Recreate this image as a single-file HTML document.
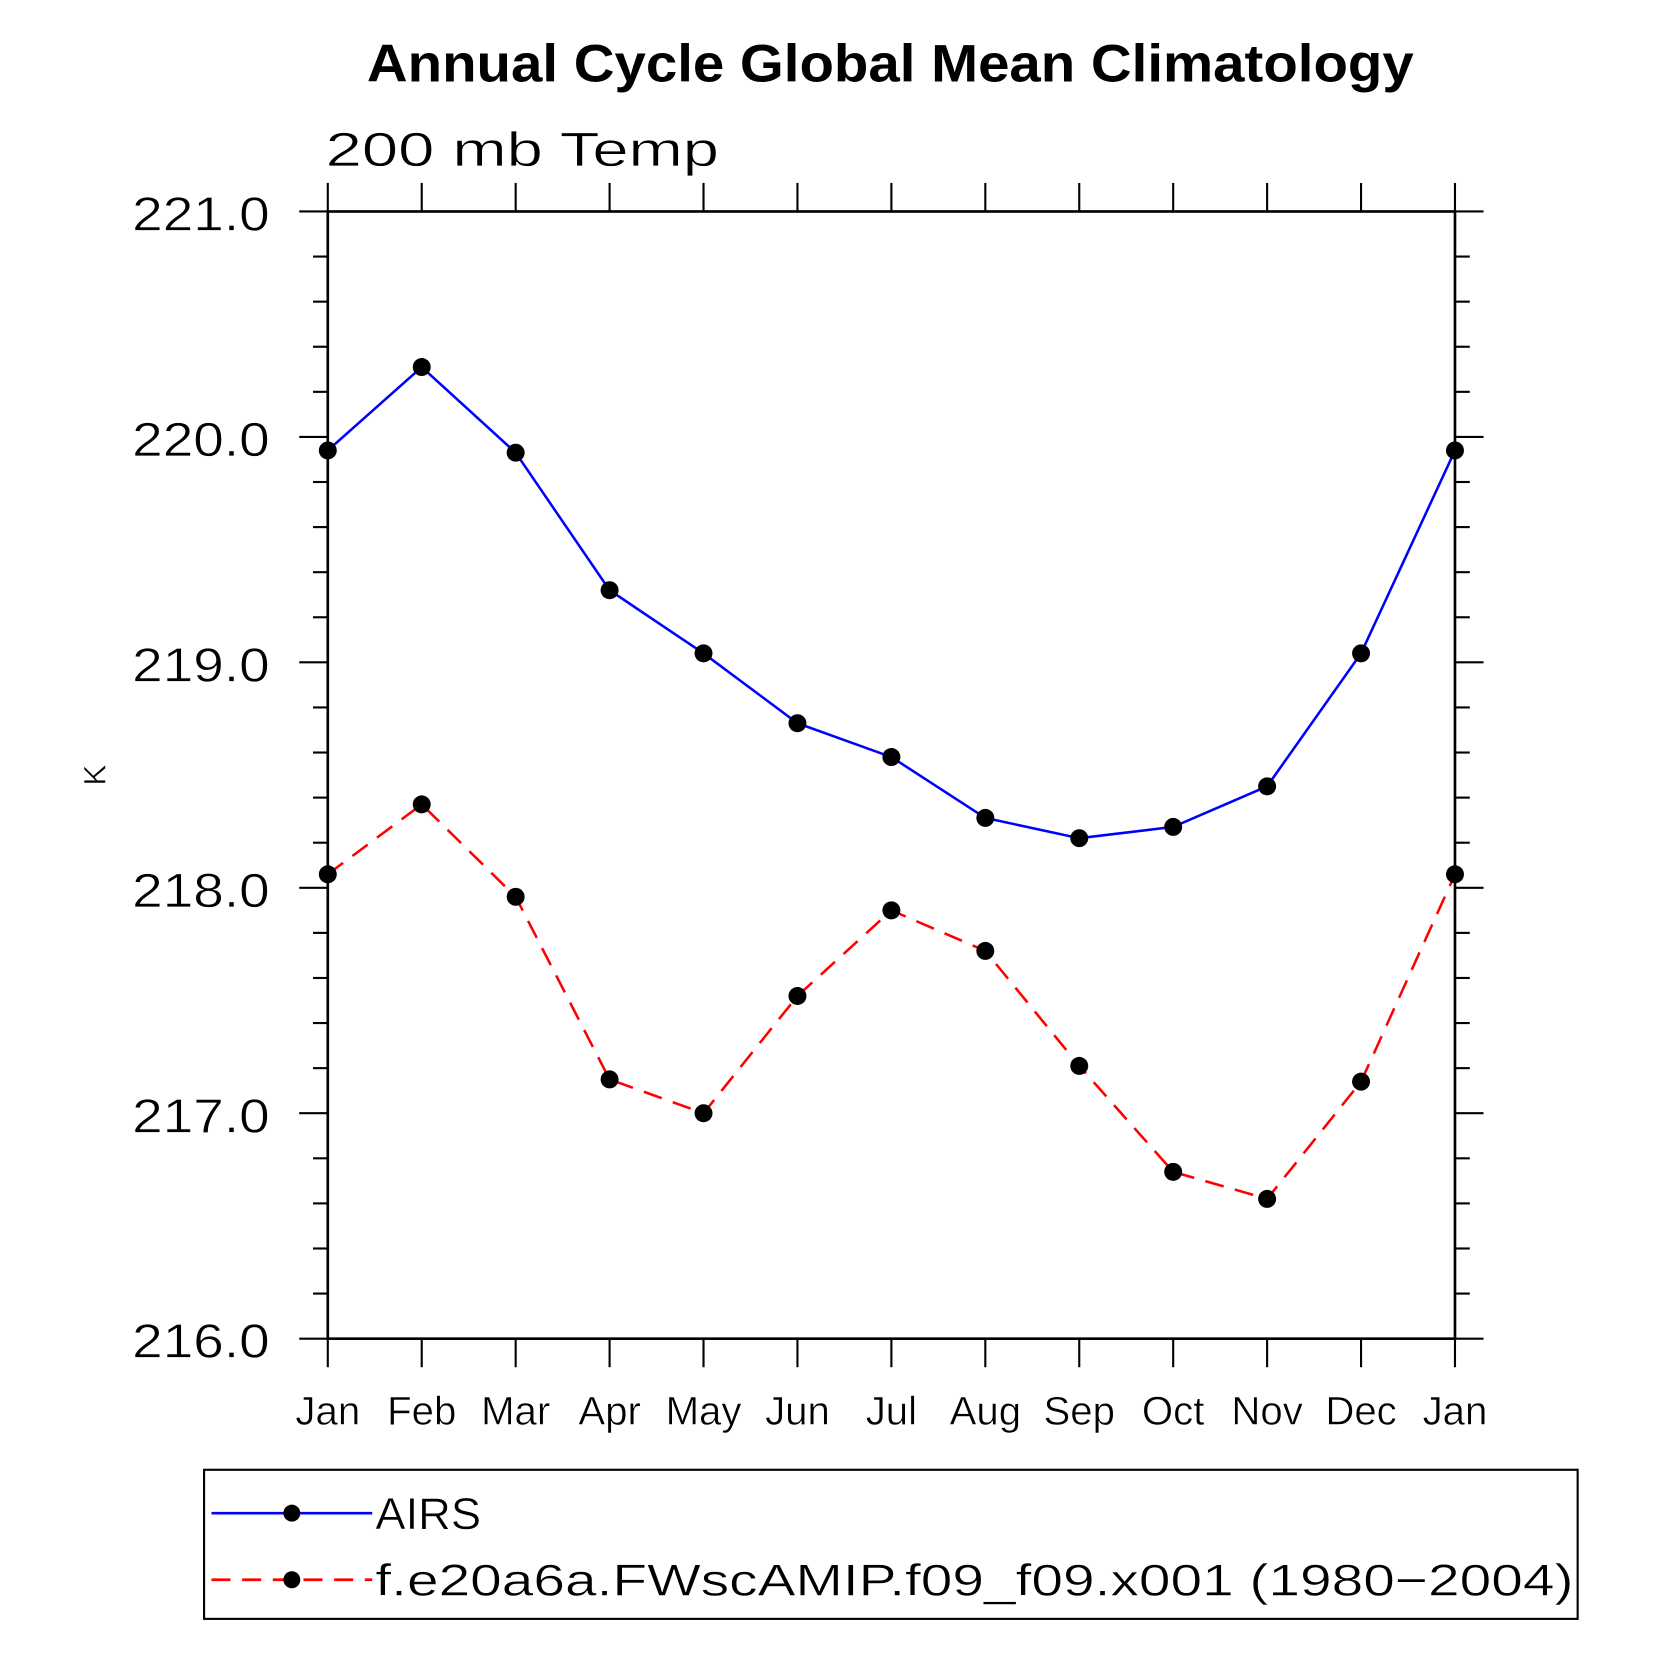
<!DOCTYPE html>
<html><head><meta charset="utf-8"><style>html,body{margin:0;padding:0;background:#fff}svg{display:block}</style></head>
<body>
<svg id="chart" width="1658" height="1658" viewBox="0 0 1568 1568" xmlns="http://www.w3.org/2000/svg" font-family="'Liberation Sans', sans-serif">
<text x="842" y="77" text-anchor="middle" font-size="50" font-weight="bold" textLength="990" lengthAdjust="spacingAndGlyphs">Annual Cycle Global Mean Climatology</text>
<text x="308" y="157" font-size="46" textLength="372" lengthAdjust="spacingAndGlyphs" stroke="#fff" stroke-width="0.6">200 mb Temp</text>
<text transform="translate(100,733) rotate(-90)" text-anchor="middle" font-size="30" stroke="#fff" stroke-width="0.5">K</text>
<g id="axes"></g>
<g id="series"></g>
<g>
<rect x="193" y="1390" width="1299" height="141" fill="none" stroke="#000" stroke-width="2"/>
<line x1="200" y1="1431" x2="352" y2="1431" stroke="#00f" stroke-width="2.5"/>
<circle cx="276" cy="1431" r="8"/>
<text x="355" y="1446" font-size="42" textLength="100" lengthAdjust="spacingAndGlyphs" stroke="#fff" stroke-width="0.5">AIRS</text>
<line x1="200" y1="1494" x2="352" y2="1494" stroke="#f00" stroke-width="2.5" stroke-dasharray="18,11"/>
<circle cx="276" cy="1494" r="8"/>
<text x="355" y="1509" font-size="42" textLength="1133" lengthAdjust="spacingAndGlyphs" stroke="#fff" stroke-width="0.5">f.e20a6a.FWscAMIP.f09_f09.x001 (1980−2004)</text>
</g>
</svg>
<script>
const months = ["Jan","Feb","Mar","Apr","May","Jun","Jul","Aug","Sep","Oct","Nov","Dec","Jan"];
const airsValues = [219.94,220.31,219.93,219.32,219.04,218.73,218.58,218.31,218.22,218.27,218.45,219.04,219.94];
const modelValues = [218.06,218.37,217.96,217.15,217.00,217.52,217.90,217.72,217.21,216.74,216.62,217.14,218.06];
const yTickValues = [216,217,218,219,220,221];
const yTickLabels = ["216.0","217.0","218.0","219.0","220.0","221.0"];

const NS = "http://www.w3.org/2000/svg";
const L=310,R=1376,T=200,B=1266,yMin=216,yMax=221;
const xs = i => L + (R-L)*i/(months.length-1);
const ys = v => B - (v-yMin)/(yMax-yMin)*(B-T);
function mk(tag, attrs, parent){const e=document.createElementNS(NS,tag);for(const k in attrs)e.setAttribute(k,attrs[k]);parent.appendChild(e);return e;}
const axes=document.getElementById('axes');
const frame=mk('rect',{x:L,y:T,width:R-L,height:B-T,fill:'none',stroke:'#000','stroke-width':2.5},axes);


months.forEach((m,i)=>{
  const x=xs(i);
  mk('line',{x1:x,y1:T-27,x2:x,y2:T,stroke:'#000','stroke-width':2},axes);
  mk('line',{x1:x,y1:B,x2:x,y2:B+27,stroke:'#000','stroke-width':2},axes);
  const t=mk('text',{x:x,y:1347,'text-anchor':'middle','font-size':38,stroke:'#fff','stroke-width':0.5},axes);
  t.textContent=m;
  
  
});
for(let v=yMin; v<=yMax+1e-9; v+=0.2){
  const y=ys(v);
  const major=Math.abs(v-Math.round(v))<1e-6;
  const len=major?27:14;
  mk('line',{x1:L-len,y1:y,x2:L,y2:y,stroke:'#000','stroke-width':2},axes);
  mk('line',{x1:R,y1:y,x2:R+len,y2:y,stroke:'#000','stroke-width':2},axes);
}
yTickValues.forEach((v,i)=>{
  const t=mk('text',{x:255,y:ys(v)+18,'text-anchor':'end','font-size':46,textLength:130,lengthAdjust:'spacingAndGlyphs',stroke:'#fff','stroke-width':0.6},axes);
  t.textContent=yTickLabels[i];
  
  
});
const series=document.getElementById('series');
function drawSeries(vals,color,dash,name){
  const pts=vals.map((v,i)=>xs(i)+','+ys(v)).join(' ');
  const pl=mk('polyline',{points:pts,fill:'none',stroke:color,'stroke-width':2.4},series);
  if(dash) pl.setAttribute('stroke-dasharray',dash);
  
  
  vals.forEach((v,i)=>{
    const c=mk('circle',{cx:xs(i),cy:ys(v),r:8.5,fill:'#000'},series);
    
    
  });
}
drawSeries(airsValues,'#00f',null,'airs');
drawSeries(modelValues,'#f00','18,11','model');
</script>
</body></html>
